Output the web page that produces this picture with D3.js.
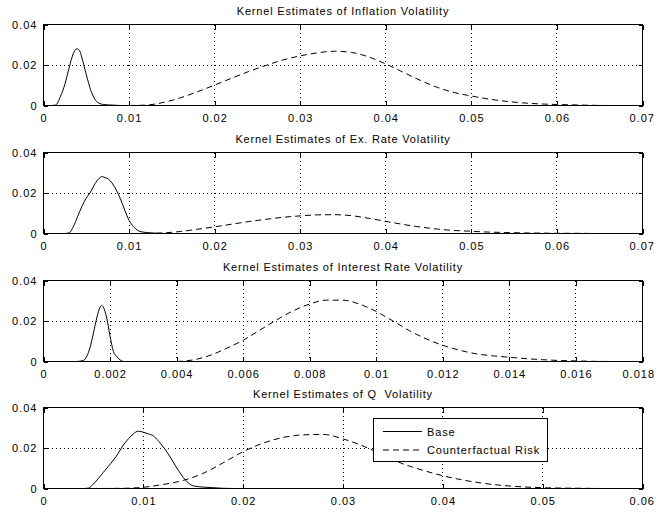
<!DOCTYPE html>
<html>
<head>
<meta charset="utf-8">
<script src="https://cdn.jsdelivr.net/npm/d3@7"></script>
<style>
    body { margin: 0; background: #fff; }
    #chart { width: 657px; height: 512px; }
    text { font-family: "Liberation Sans", Arial, Helvetica, sans-serif; font-size: 11px; fill: #000; }
</style>
</head>
<body>
<div id="chart"></div>
<script>
    // panel titles and axis ranges
    const titles = [
        "Kernel Estimates of Inflation Volatility",
        "Kernel Estimates of Ex. Rate Volatility",
        "Kernel Estimates of Interest Rate Volatility",
        "Kernel Estimates of Q  Volatility"
    ];
    const xTicks = [
        [0, 0.01, 0.02, 0.03, 0.04, 0.05, 0.06, 0.07],
        [0, 0.01, 0.02, 0.03, 0.04, 0.05, 0.06, 0.07],
        [0, 0.002, 0.004, 0.006, 0.008, 0.01, 0.012, 0.014, 0.016, 0.018],
        [0, 0.01, 0.02, 0.03, 0.04, 0.05, 0.06]
    ];
    const yTicks = [0, 0.02, 0.04];
    const legendLabels = ["Base", "Counterfactual Risk"];

    // density curves: [x, density]
    const inflBase = [[0.0010,0],[0.0014,0.0002],[0.0020,0.0046],[0.0025,0.0105],[0.0030,0.0187],[0.0035,0.0258],
        [0.0039,0.0280],[0.0042,0.0272],[0.0045,0.0234],[0.0050,0.0153],[0.0055,0.0078],[0.0060,0.0031],
        [0.0065,0.0011],[0.0070,0.0005],[0.0080,0.0002],[0.0090,0]];
    const inflCf = [[0.010,0],[0.012,0.0002],[0.014,0.0015],[0.016,0.0038],[0.018,0.0068],[0.020,0.0101],
        [0.022,0.0135],[0.024,0.0168],[0.026,0.0198],[0.028,0.0225],[0.030,0.0245],[0.032,0.0260],[0.034,0.0268],
        [0.036,0.0262],[0.038,0.0240],[0.040,0.0205],[0.042,0.0165],[0.044,0.0125],[0.046,0.0090],[0.048,0.0064],
        [0.050,0.0047],[0.052,0.0032],[0.054,0.0021],[0.056,0.0013],[0.058,0.0008],[0.060,0.0005],[0.062,0.0003],
        [0.064,0.0001],[0.066,0]];
    const exBase = [[0.0025,0],[0.0030,0.0003],[0.0035,0.0035],[0.0040,0.0085],[0.0045,0.0135],[0.0050,0.0175],
        [0.0055,0.0205],[0.0060,0.0245],[0.0065,0.0272],[0.0068,0.0281],[0.0072,0.0276],[0.0076,0.0268],
        [0.0080,0.0250],[0.0085,0.0215],[0.0090,0.0170],[0.0095,0.0115],[0.0100,0.0065],[0.0105,0.0035],
        [0.0110,0.0015],[0.0115,0.0008],[0.0120,0.0005],[0.0130,0.0002],[0.0140,0]];
    const exCf = [[0.012,0],[0.014,0.0003],[0.016,0.0010],[0.018,0.0021],[0.020,0.0033],[0.022,0.0046],
        [0.024,0.0059],[0.026,0.0070],[0.028,0.0080],[0.030,0.0087],[0.032,0.0092],[0.034,0.0093],[0.036,0.0088],
        [0.038,0.0075],[0.040,0.0060],[0.042,0.0045],[0.044,0.0032],[0.046,0.0022],[0.048,0.0015],[0.050,0.0011],
        [0.052,0.0007],[0.054,0.0005],[0.056,0.0003],[0.058,0.0002],[0.060,0.0001],[0.062,0.0001],[0.064,0]];
    const irBase = [[0.0010,0],[0.0012,0.0005],[0.0013,0.0025],[0.0014,0.0070],[0.0015,0.0140],[0.0016,0.0215],
        [0.0017,0.0268],[0.00175,0.0277],[0.0018,0.0268],[0.0019,0.0215],[0.0020,0.0125],[0.0021,0.0050],
        [0.0022,0.0025],[0.0023,0.0008],[0.0024,0]];
    const irCf = [[0.0040,0],[0.0045,0.0008],[0.0050,0.0030],[0.0055,0.0065],[0.0060,0.0105],[0.0065,0.0155],
        [0.0070,0.0205],[0.0075,0.0250],[0.0080,0.0284],[0.0085,0.0303],[0.0090,0.0303],[0.0095,0.0283],
        [0.0100,0.0247],[0.0105,0.0200],[0.0110,0.0152],[0.0115,0.0112],[0.0120,0.0080],[0.0125,0.0056],
        [0.0130,0.0038],[0.0135,0.0028],[0.0140,0.0021],[0.0145,0.0014],[0.0150,0.0009],[0.0155,0.0005],
        [0.0160,0.0003],[0.0165,0.0001],[0.0170,0]];
    const qBase = [[0.000,0],[0.004,0],[0.0045,0.0002],[0.0050,0.0022],[0.0055,0.0050],[0.0060,0.0080],
        [0.0065,0.0110],[0.0070,0.0140],[0.0075,0.0175],[0.0080,0.0215],[0.0085,0.0245],[0.0090,0.0270],
        [0.0095,0.0283],[0.0100,0.0278],[0.0105,0.0270],[0.0110,0.0260],[0.0115,0.0235],[0.0120,0.0205],
        [0.0125,0.0170],[0.0130,0.0130],[0.0135,0.0090],[0.0140,0.0055],[0.0145,0.0028],[0.0150,0.0013],
        [0.0160,0.0007],[0.0170,0.0004],[0.0180,0.0001],[0.0190,0]];
    const qCf = [[0.005,0],[0.008,0.0001],[0.010,0.0006],[0.012,0.0020],[0.014,0.0040],[0.016,0.0075],
        [0.018,0.0127],[0.020,0.0182],[0.022,0.0224],[0.024,0.0252],[0.026,0.0265],[0.028,0.0267],[0.030,0.0245],
        [0.032,0.0210],[0.034,0.0165],[0.036,0.0122],[0.038,0.0090],[0.040,0.0063],[0.042,0.0042],[0.044,0.0026],
        [0.046,0.0015],[0.048,0.0008],[0.050,0.0004],[0.052,0.0002],[0.054,0.0001],[0.056,0]];

    const baseSeries = [inflBase, exBase, irBase, qBase];
    const cfSeries = [inflCf, exCf, irCf, qCf];

    const width = 657, height = 512;
    const left = 43.5, plotW = 599, plotH = 81;
    const tops = [24.5, 152.5, 280.5, 407.5];

    const svg = d3.select("#chart").append("svg")
        .attr("width", width)
        .attr("height", height);

    const fmt = d => d === 0 ? "0" : String(+d.toFixed(4));

    titles.forEach((title, i) => {
        let ticks = xTicks[i];
        let x = d3.scaleLinear().domain([0, ticks[ticks.length - 1]]).range([0, plotW]);
        let y = d3.scaleLinear().domain([0, 0.04]).range([plotH, 0]);

        let g = svg.append("g").attr("transform", `translate(${left},${tops[i]})`);

        // white plot area
        g.append("rect").attr("width", plotW).attr("height", plotH).attr("fill", "#fff");

        // dotted grid
        let grid = g.append("g").attr("stroke", "#000").attr("stroke-width", 1)
            .attr("stroke-dasharray", "1,3").attr("shape-rendering", "crispEdges");
        ticks.slice(1, -1).forEach(t => {
            grid.append("line").attr("x1", x(t)).attr("x2", x(t)).attr("y1", 0).attr("y2", plotH);
        });
        yTicks.slice(1, -1).forEach(t => {
            grid.append("line").attr("x1", 0).attr("x2", plotW).attr("y1", y(t)).attr("y2", y(t));
        });

        let line = d3.line().x(d => x(d[0])).y(d => y(d[1])).curve(d3.curveMonotoneX);

        g.append("path").datum(cfSeries[i])
            .attr("d", line).attr("fill", "none").attr("stroke", "#000")
            .attr("stroke-width", 1).attr("stroke-dasharray", "6,4");
        g.append("path").datum(baseSeries[i])
            .attr("d", line).attr("fill", "none").attr("stroke", "#000")
            .attr("stroke-width", 1);

        // axes: ticks inward on all four sides
        let xAxis = d3.axisBottom(x).tickValues(ticks).tickFormat(fmt).tickSizeInner(-5).tickSizeOuter(0).tickPadding(9);
        let xTop = d3.axisTop(x).tickValues(ticks).tickFormat("").tickSizeInner(-5).tickSizeOuter(0);
        let yAxis = d3.axisLeft(y).tickValues(yTicks).tickFormat(fmt).tickSizeInner(-4).tickSizeOuter(0).tickPadding(6);
        let yRight = d3.axisRight(y).tickValues(yTicks).tickFormat("").tickSizeInner(-4).tickSizeOuter(0);

        [
            g.append("g").attr("transform", `translate(0,${plotH})`).call(xAxis),
            g.append("g").call(xTop),
            g.append("g").call(yAxis),
            g.append("g").attr("transform", `translate(${plotW},0)`).call(yRight)
        ].forEach(a => {
            a.attr("shape-rendering", "crispEdges");
            a.select(".domain").remove();
            a.selectAll("line").attr("stroke", "#000");
            a.selectAll("text").attr("font-family", null).attr("font-size", null)
                .attr("fill", "#000").attr("letter-spacing", "1px");
        });

        // keep the last x label inside the window
        g.selectAll(".tick text").each(function() {
            let box = this.getBoundingClientRect();
            if (box.right > width - 2) {
                d3.select(this).attr("dx", -(box.right - (width - 2)));
            }
        });

        g.append("rect").attr("width", plotW).attr("height", plotH)
            .attr("fill", "none").attr("stroke", "#000").attr("stroke-width", 1)
            .attr("shape-rendering", "crispEdges");

        g.append("text").attr("x", plotW / 2).attr("y", -10)
            .attr("text-anchor", "middle").attr("letter-spacing", "0.8px")
            .style("white-space", "pre").text(title);

        // legend in the last panel
        if (i === titles.length - 1) {
            let lg = g.append("g").attr("transform", `translate(${x(0.0331)},${10.5})`);
            lg.append("rect").attr("width", 174).attr("height", 43)
                .attr("fill", "#fff").attr("stroke", "#000").attr("shape-rendering", "crispEdges");
            legendLabels.forEach((lab, k) => {
                let ly = 13.5 + k * 18.5;
                lg.append("line").attr("x1", 9).attr("x2", 48).attr("y1", ly).attr("y2", ly)
                    .attr("stroke", "#000").attr("stroke-dasharray", k === 1 ? "6,4" : null);
                lg.append("text").attr("x", 53).attr("y", ly + 4)
                    .attr("letter-spacing", "0.9px").text(lab);
            });
        }
    });
</script>
</body>
</html>
